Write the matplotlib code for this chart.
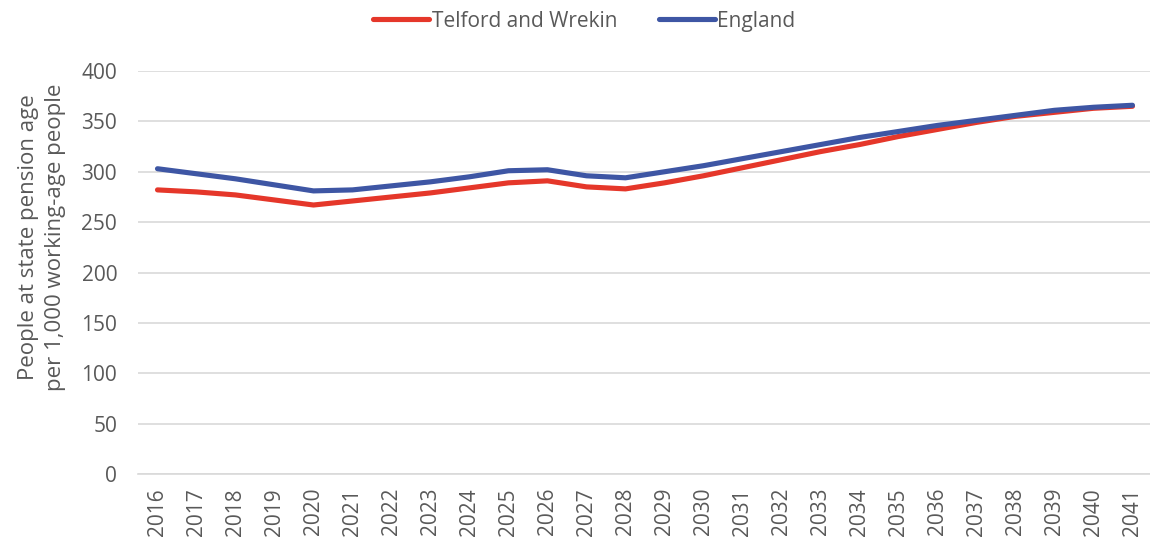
import numpy as np
import matplotlib
matplotlib.use("Agg")
import matplotlib.pyplot as plt

years = list(range(2016, 2042))
telford = [282, 280, 277, 272, 267, 271, 275, 279, 284, 289, 291, 285, 283,
           289, 296, 304, 312, 320, 327, 335, 342, 349, 355, 359, 363, 365]
england = [303, 298, 293, 287, 281, 282, 286, 290, 295, 301, 302, 296, 294,
           300, 306, 313, 320, 327, 334, 340, 346, 351, 356, 361, 364, 366]

grey = "#595959"
plt.rcParams['font.family'] = ['Open Sans', 'DejaVu Sans']

fig = plt.figure(figsize=(11.5, 5.4), dpi=100)
ax = fig.add_axes([0.12, 0.1222, 0.8817, 0.7463])

x = np.arange(len(years))
ax.plot(x, telford, color="#E5372A", lw=3.7, solid_capstyle="round",
        solid_joinstyle="round", label="Telford and Wrekin", zorder=3)
ax.plot(x, england, color="#3E56A4", lw=3.7, solid_capstyle="round",
        solid_joinstyle="round", label="England", zorder=4)

ax.set_xlim(-0.5, len(years) - 0.5)
ax.set_ylim(0, 400)
ax.set_yticks(range(0, 401, 50))
ax.set_xticks(x)
ax.set_xticklabels([str(y) for y in years], rotation=90)
ax.tick_params(axis="both", colors=grey, labelsize=15, length=0)
ax.tick_params(axis="x", pad=10)
ax.tick_params(axis="y", pad=15)
ax.grid(axis="y", color="#D9D9D9", lw=1.2)
ax.set_axisbelow(True)
for s in ["top", "right", "left"]:
    ax.spines[s].set_visible(False)
ax.spines["bottom"].set_color("#D9D9D9")
ax.spines["bottom"].set_linewidth(1.2)

ax.set_ylabel("People at state pension age\nper 1,000 working-age people",
              color=grey, fontsize=16, linespacing=1.35)
ax.yaxis.set_label_coords(-0.071, 0.588)

fig.legend(loc="upper center", bbox_to_anchor=(0.508, 1.015), ncol=2,
           frameon=False, fontsize=15, labelcolor=grey, handlelength=2.7,
           handletextpad=0.1, columnspacing=2.0)

fig.savefig("out.png", dpi=100)
